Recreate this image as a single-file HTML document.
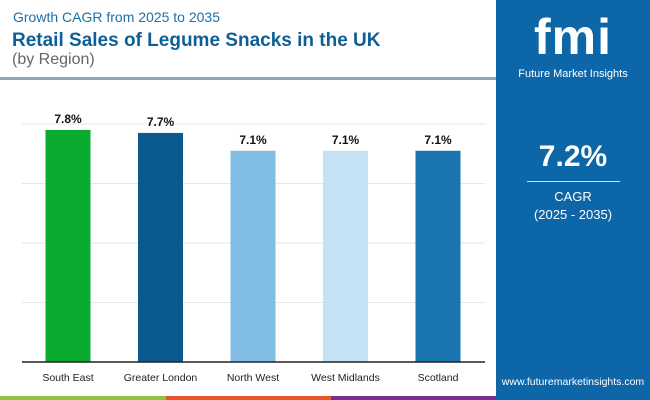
<!DOCTYPE html>
<html><head><meta charset="utf-8"><style>
body{margin:0;width:650px;height:400px;overflow:hidden;background:#fff;font-family:"Liberation Sans",sans-serif;position:relative}
.a{position:absolute}
</style></head><body>
<div class="a" style="left:13px;top:9px;font-size:14px;color:#1f6fa8">Growth CAGR from 2025 to 2035</div>
<div class="a" style="left:12px;top:30px;font-size:19px;font-weight:bold;color:#0e5f97">Retail Sales of Legume Snacks in the UK</div>
<div class="a" style="left:12px;top:51px;font-size:16px;color:#666">(by Region)</div>
<div class="a" style="left:0;top:77px;width:496px;height:3px;background:#8aa7b8"></div>
<div class="a" style="left:496px;top:0;width:154px;height:400px;background:#0d66a8">
  <div class="a" style="left:0;width:154px;top:8px;text-align:center;font-size:50px;font-weight:bold;color:#fff;letter-spacing:1px">fmi</div>
  <div class="a" style="left:0;width:154px;top:68px;text-align:center;font-size:11px;color:#fff">Future Market Insights</div>
  <div class="a" style="left:0;width:154px;top:140px;text-align:center;font-size:30px;font-weight:bold;color:#fff">7.2%</div>
  <div class="a" style="left:31px;top:181px;width:93px;height:1px;background:#cfe0ee"></div>
  <div class="a" style="left:0;width:154px;top:189px;text-align:center;font-size:13px;color:#fff">CAGR</div>
  <div class="a" style="left:0;width:154px;top:207px;text-align:center;font-size:13px;color:#fff">(2025 - 2035)</div>
  <div class="a" style="left:0;width:154px;top:376px;text-align:center;font-size:10.5px;color:#fff">www.futuremarketinsights.com</div>
</div>
<div class="a" style="left:0;top:396px;width:166px;height:4px;background:#8cc43f"></div>
<div class="a" style="left:166px;top:396px;width:165px;height:4px;background:#e6562b"></div>
<div class="a" style="left:331px;top:396px;width:165px;height:4px;background:#7a2e8c"></div>
<svg class="a" style="left:0;top:0" width="496" height="396">
<g id="g"></g>
</svg>
<script>
const categories=["South East","Greater London","North West","West Midlands","Scotland"];
const values=[7.8,7.7,7.1,7.1,7.1];
const labels=["7.8%","7.7%","7.1%","7.1%","7.1%"];
const ticks=[0,2,4,6,8];
const colors=["#0aab2e","#0a5a8f","#82bde3","#c4e2f3","#1a74b0"];
const g=document.getElementById('g');const NS="http://www.w3.org/2000/svg";
const y0=362,ppu=29.75,x0=22,x1=485,bw=45;
const y=v=>y0-v*ppu;const xc=i=>68+i*92.5;
function mk(t,a){const e=document.createElementNS(NS,t);for(const k in a)e.setAttribute(k,a[k]);g.appendChild(e);return e;}
ticks.forEach(t=>{if(t===0)return;const l=mk('line',{x1:x0,x2:x1,y1:y(t),y2:y(t),stroke:'#e6e6e6','stroke-width':1});

});
categories.forEach((c,i)=>{
const r=mk('rect',{x:xc(i)-bw/2,y:y(values[i]),width:bw,height:values[i]*ppu,fill:colors[i]});


const v=mk('text',{x:xc(i),y:y(values[i])-7,'text-anchor':'middle','font-size':12,'font-weight':'bold',fill:'#111','font-family':'Liberation Sans'});v.textContent=labels[i];


const t=mk('text',{x:xc(i),y:381,'text-anchor':'middle','font-size':10.5,fill:'#222','font-family':'Liberation Sans'});t.textContent=c;


});
const b=mk('line',{x1:x0,x2:x1,y1:y0,y2:y0,stroke:'#222','stroke-width':1.5});


</script>
</body></html>
